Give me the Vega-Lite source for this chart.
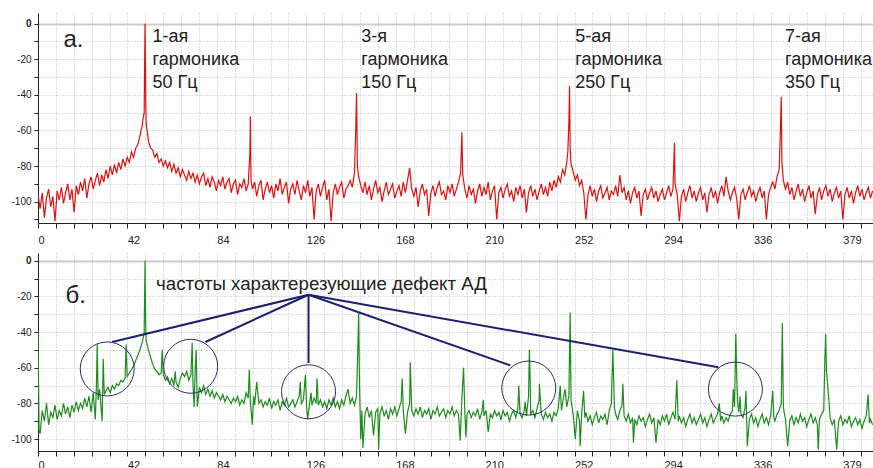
{
"$schema": "https://vega.github.io/schema/vega-lite/v6.json",
"padding": {"left": 10, "top": 13, "right": 0, "bottom": 0},
"background": "white",
"bounds": "flush",
"spacing": 30,
"config": {"view": {"stroke": null}, "font": "Liberation Sans"},
"datasets": {
"red": [{"f":0,"a":-96},{"f":1,"a":-104},{"f":2,"a":-95},{"f":3,"a":-109},{"f":4,"a":-98},{"f":5,"a":-93},{"f":6,"a":-103},{"f":7,"a":-97},{"f":8,"a":-111},{"f":9,"a":-94},{"f":10,"a":-99},{"f":11,"a":-92},{"f":12,"a":-101},{"f":13,"a":-95},{"f":14,"a":-90},{"f":15,"a":-99},{"f":16,"a":-93},{"f":17,"a":-106},{"f":18,"a":-91},{"f":19,"a":-96},{"f":20,"a":-89},{"f":21,"a":-94},{"f":22,"a":-87},{"f":23,"a":-98},{"f":24,"a":-90},{"f":25,"a":-86},{"f":26,"a":-93},{"f":27,"a":-88},{"f":28,"a":-84},{"f":29,"a":-91},{"f":30,"a":-85},{"f":31,"a":-89},{"f":32,"a":-82},{"f":33,"a":-87},{"f":34,"a":-80},{"f":35,"a":-85},{"f":36,"a":-79},{"f":37,"a":-84},{"f":38,"a":-78},{"f":39,"a":-82},{"f":40,"a":-76},{"f":41,"a":-80},{"f":42,"a":-75},{"f":43,"a":-78},{"f":44,"a":-72},{"f":45,"a":-75},{"f":46,"a":-70},{"f":47,"a":-68},{"f":48,"a":-63},{"f":48.5,"a":-60},{"f":49,"a":-58},{"f":49.5,"a":-53},{"f":50,"a":-50},{"f":50.4,"a":0},{"f":50.6,"a":-22},{"f":50.8,"a":-50},{"f":51,"a":-57},{"f":51.5,"a":-61},{"f":52,"a":-66},{"f":53,"a":-70},{"f":54,"a":-71},{"f":55,"a":-75},{"f":56,"a":-73},{"f":57,"a":-78},{"f":58,"a":-76},{"f":59,"a":-80},{"f":60,"a":-77},{"f":61,"a":-81},{"f":62,"a":-78},{"f":63,"a":-83},{"f":64,"a":-79},{"f":65,"a":-84},{"f":66,"a":-81},{"f":67,"a":-86},{"f":68,"a":-82},{"f":69,"a":-85},{"f":70,"a":-88},{"f":71,"a":-83},{"f":72,"a":-87},{"f":73,"a":-84},{"f":74,"a":-89},{"f":75,"a":-85},{"f":76,"a":-90},{"f":77,"a":-86},{"f":78,"a":-84},{"f":79,"a":-91},{"f":80,"a":-87},{"f":81,"a":-92},{"f":82,"a":-86},{"f":83,"a":-89},{"f":84,"a":-94},{"f":85,"a":-88},{"f":86,"a":-91},{"f":87,"a":-86},{"f":88,"a":-93},{"f":89,"a":-89},{"f":90,"a":-87},{"f":91,"a":-95},{"f":92,"a":-90},{"f":93,"a":-88},{"f":94,"a":-96},{"f":95,"a":-90},{"f":96,"a":-92},{"f":97,"a":-87},{"f":98,"a":-94},{"f":99,"a":-90},{"f":99.8,"a":-72},{"f":100,"a":-52},{"f":100.3,"a":-88},{"f":101,"a":-93},{"f":102,"a":-89},{"f":103,"a":-97},{"f":104,"a":-91},{"f":105,"a":-88},{"f":106,"a":-99},{"f":107,"a":-93},{"f":108,"a":-89},{"f":109,"a":-95},{"f":110,"a":-91},{"f":111,"a":-98},{"f":112,"a":-90},{"f":113,"a":-94},{"f":114,"a":-87},{"f":115,"a":-96},{"f":116,"a":-92},{"f":117,"a":-89},{"f":118,"a":-101},{"f":119,"a":-93},{"f":120,"a":-90},{"f":121,"a":-96},{"f":122,"a":-88},{"f":123,"a":-94},{"f":124,"a":-99},{"f":125,"a":-91},{"f":126,"a":-95},{"f":127,"a":-88},{"f":128,"a":-97},{"f":129,"a":-92},{"f":130,"a":-110},{"f":131,"a":-94},{"f":132,"a":-90},{"f":133,"a":-97},{"f":134,"a":-92},{"f":135,"a":-88},{"f":136,"a":-99},{"f":137,"a":-93},{"f":138,"a":-111},{"f":139,"a":-95},{"f":140,"a":-90},{"f":141,"a":-96},{"f":142,"a":-92},{"f":143,"a":-89},{"f":144,"a":-98},{"f":145,"a":-93},{"f":146,"a":-91},{"f":147,"a":-88},{"f":148,"a":-92},{"f":149,"a":-84},{"f":149.6,"a":-61},{"f":150,"a":-39},{"f":150.4,"a":-80},{"f":151,"a":-86},{"f":152,"a":-91},{"f":153,"a":-95},{"f":154,"a":-89},{"f":155,"a":-96},{"f":156,"a":-91},{"f":157,"a":-99},{"f":158,"a":-93},{"f":159,"a":-88},{"f":160,"a":-95},{"f":161,"a":-92},{"f":162,"a":-100},{"f":163,"a":-94},{"f":164,"a":-89},{"f":165,"a":-96},{"f":166,"a":-93},{"f":167,"a":-90},{"f":168,"a":-98},{"f":169,"a":-94},{"f":170,"a":-91},{"f":171,"a":-97},{"f":172,"a":-89},{"f":173,"a":-95},{"f":174,"a":-88},{"f":175,"a":-81},{"f":176,"a":-93},{"f":177,"a":-97},{"f":178,"a":-92},{"f":179,"a":-103},{"f":180,"a":-94},{"f":181,"a":-90},{"f":182,"a":-96},{"f":183,"a":-93},{"f":184,"a":-108},{"f":185,"a":-95},{"f":186,"a":-91},{"f":187,"a":-97},{"f":188,"a":-92},{"f":189,"a":-89},{"f":190,"a":-96},{"f":191,"a":-94},{"f":192,"a":-99},{"f":193,"a":-91},{"f":194,"a":-95},{"f":195,"a":-90},{"f":196,"a":-97},{"f":197,"a":-93},{"f":198,"a":-89},{"f":199,"a":-84},{"f":199.6,"a":-61},{"f":200,"a":-85},{"f":201,"a":-93},{"f":202,"a":-98},{"f":203,"a":-91},{"f":204,"a":-96},{"f":205,"a":-93},{"f":206,"a":-101},{"f":207,"a":-94},{"f":208,"a":-90},{"f":209,"a":-97},{"f":210,"a":-92},{"f":211,"a":-96},{"f":212,"a":-89},{"f":213,"a":-99},{"f":214,"a":-94},{"f":215,"a":-91},{"f":216,"a":-110},{"f":217,"a":-95},{"f":218,"a":-92},{"f":219,"a":-98},{"f":220,"a":-93},{"f":221,"a":-90},{"f":222,"a":-97},{"f":223,"a":-94},{"f":224,"a":-100},{"f":225,"a":-92},{"f":226,"a":-96},{"f":227,"a":-91},{"f":228,"a":-98},{"f":229,"a":-93},{"f":230,"a":-106},{"f":231,"a":-95},{"f":232,"a":-91},{"f":233,"a":-97},{"f":234,"a":-93},{"f":235,"a":-99},{"f":236,"a":-94},{"f":237,"a":-90},{"f":238,"a":-96},{"f":239,"a":-92},{"f":240,"a":-97},{"f":241,"a":-89},{"f":242,"a":-94},{"f":243,"a":-88},{"f":244,"a":-92},{"f":245,"a":-86},{"f":246,"a":-89},{"f":247,"a":-82},{"f":248,"a":-85},{"f":249,"a":-78},{"f":249.5,"a":-72},{"f":250,"a":-55},{"f":250.3,"a":-35},{"f":250.6,"a":-70},{"f":251,"a":-79},{"f":252,"a":-83},{"f":253,"a":-88},{"f":254,"a":-85},{"f":255,"a":-91},{"f":256,"a":-88},{"f":257,"a":-95},{"f":258,"a":-110},{"f":259,"a":-96},{"f":260,"a":-91},{"f":261,"a":-97},{"f":262,"a":-93},{"f":263,"a":-100},{"f":264,"a":-94},{"f":265,"a":-91},{"f":266,"a":-98},{"f":267,"a":-95},{"f":268,"a":-92},{"f":269,"a":-99},{"f":270,"a":-94},{"f":271,"a":-96},{"f":272,"a":-91},{"f":273,"a":-97},{"f":274,"a":-85},{"f":275,"a":-95},{"f":276,"a":-92},{"f":277,"a":-99},{"f":278,"a":-94},{"f":279,"a":-101},{"f":280,"a":-95},{"f":281,"a":-92},{"f":282,"a":-98},{"f":283,"a":-94},{"f":284,"a":-108},{"f":285,"a":-96},{"f":286,"a":-93},{"f":287,"a":-99},{"f":288,"a":-95},{"f":289,"a":-92},{"f":290,"a":-98},{"f":291,"a":-94},{"f":292,"a":-100},{"f":293,"a":-96},{"f":294,"a":-93},{"f":295,"a":-99},{"f":296,"a":-95},{"f":297,"a":-91},{"f":298,"a":-97},{"f":299,"a":-93},{"f":299.7,"a":-67},{"f":300,"a":-90},{"f":301,"a":-96},{"f":302,"a":-111},{"f":303,"a":-97},{"f":304,"a":-93},{"f":305,"a":-100},{"f":306,"a":-95},{"f":307,"a":-91},{"f":308,"a":-98},{"f":309,"a":-94},{"f":310,"a":-100},{"f":311,"a":-95},{"f":312,"a":-92},{"f":313,"a":-99},{"f":314,"a":-95},{"f":315,"a":-106},{"f":316,"a":-96},{"f":317,"a":-92},{"f":318,"a":-98},{"f":319,"a":-94},{"f":320,"a":-101},{"f":321,"a":-95},{"f":322,"a":-91},{"f":323,"a":-97},{"f":324,"a":-86},{"f":325,"a":-94},{"f":326,"a":-99},{"f":327,"a":-95},{"f":328,"a":-92},{"f":329,"a":-98},{"f":330,"a":-110},{"f":331,"a":-96},{"f":332,"a":-93},{"f":333,"a":-99},{"f":334,"a":-95},{"f":335,"a":-91},{"f":336,"a":-97},{"f":337,"a":-94},{"f":338,"a":-100},{"f":339,"a":-95},{"f":340,"a":-92},{"f":341,"a":-98},{"f":342,"a":-94},{"f":343,"a":-110},{"f":344,"a":-96},{"f":345,"a":-92},{"f":346,"a":-89},{"f":347,"a":-93},{"f":348,"a":-86},{"f":349,"a":-82},{"f":349.5,"a":-64},{"f":350,"a":-41},{"f":350.3,"a":-78},{"f":351,"a":-88},{"f":352,"a":-93},{"f":353,"a":-89},{"f":354,"a":-96},{"f":355,"a":-92},{"f":356,"a":-99},{"f":357,"a":-94},{"f":358,"a":-90},{"f":359,"a":-97},{"f":360,"a":-93},{"f":361,"a":-100},{"f":362,"a":-95},{"f":363,"a":-91},{"f":364,"a":-98},{"f":365,"a":-94},{"f":366,"a":-107},{"f":367,"a":-96},{"f":368,"a":-92},{"f":369,"a":-99},{"f":370,"a":-94},{"f":371,"a":-91},{"f":372,"a":-97},{"f":373,"a":-93},{"f":374,"a":-100},{"f":375,"a":-95},{"f":376,"a":-92},{"f":377,"a":-98},{"f":378,"a":-94},{"f":379,"a":-110},{"f":380,"a":-96},{"f":381,"a":-92},{"f":382,"a":-98},{"f":383,"a":-94},{"f":384,"a":-101},{"f":385,"a":-95},{"f":386,"a":-91},{"f":387,"a":-97},{"f":388,"a":-93},{"f":389,"a":-99},{"f":390,"a":-95},{"f":391,"a":-92},{"f":392,"a":-98},{"f":393,"a":-94}],
"green": [{"f":0,"a":-40},{"f":0.5,"a":-95},{"f":1,"a":-97},{"f":2,"a":-84},{"f":3,"a":-90},{"f":4,"a":-80},{"f":5,"a":-92},{"f":6,"a":-85},{"f":7,"a":-88},{"f":8,"a":-81},{"f":9,"a":-89},{"f":10,"a":-84},{"f":11,"a":-87},{"f":12,"a":-80},{"f":13,"a":-86},{"f":14,"a":-82},{"f":15,"a":-88},{"f":16,"a":-81},{"f":17,"a":-85},{"f":18,"a":-79},{"f":19,"a":-84},{"f":20,"a":-80},{"f":21,"a":-83},{"f":22,"a":-77},{"f":23,"a":-82},{"f":24,"a":-76},{"f":25,"a":-85},{"f":26,"a":-74},{"f":27,"a":-89},{"f":27.5,"a":-70},{"f":27.9,"a":-47},{"f":28.3,"a":-78},{"f":29,"a":-72},{"f":30.2,"a":-90},{"f":30.7,"a":-55},{"f":31.2,"a":-75},{"f":32,"a":-73},{"f":33,"a":-71},{"f":34,"a":-74},{"f":35,"a":-70},{"f":36,"a":-72},{"f":37,"a":-69},{"f":38,"a":-70},{"f":39,"a":-67},{"f":40,"a":-68},{"f":41,"a":-66},{"f":41.5,"a":-47},{"f":42,"a":-65},{"f":43,"a":-63},{"f":44,"a":-61},{"f":45,"a":-59},{"f":46,"a":-56},{"f":47,"a":-53},{"f":48,"a":-50},{"f":49,"a":-46},{"f":49.6,"a":-43},{"f":50,"a":-40},{"f":50.4,"a":0},{"f":50.6,"a":-25},{"f":50.8,"a":-41},{"f":51,"a":-45},{"f":52,"a":-50},{"f":53,"a":-54},{"f":54,"a":-58},{"f":55,"a":-61},{"f":56,"a":-62},{"f":57,"a":-64},{"f":58,"a":-63},{"f":58.5,"a":-50},{"f":59,"a":-64},{"f":60,"a":-67},{"f":61,"a":-65},{"f":62,"a":-69},{"f":63,"a":-66},{"f":64,"a":-70},{"f":64.6,"a":-62},{"f":65,"a":-68},{"f":66,"a":-71},{"f":67,"a":-66},{"f":68,"a":-63},{"f":69,"a":-65},{"f":70,"a":-62},{"f":71,"a":-67},{"f":72,"a":-64},{"f":72.6,"a":-46},{"f":73,"a":-70},{"f":73.5,"a":-82},{"f":74,"a":-62},{"f":74.5,"a":-50},{"f":75,"a":-82},{"f":76,"a":-71},{"f":77,"a":-74},{"f":78,"a":-70},{"f":79,"a":-75},{"f":80,"a":-72},{"f":81,"a":-76},{"f":82,"a":-73},{"f":83,"a":-77},{"f":84,"a":-74},{"f":85,"a":-76},{"f":86,"a":-78},{"f":87,"a":-75},{"f":88,"a":-79},{"f":89,"a":-76},{"f":90,"a":-78},{"f":91,"a":-80},{"f":92,"a":-77},{"f":93,"a":-79},{"f":94,"a":-76},{"f":95,"a":-81},{"f":96,"a":-78},{"f":97,"a":-80},{"f":98,"a":-74},{"f":99,"a":-77},{"f":99.5,"a":-61},{"f":100,"a":-79},{"f":100.9,"a":-92},{"f":101.5,"a":-76},{"f":102,"a":-81},{"f":103,"a":-68},{"f":104,"a":-80},{"f":105,"a":-78},{"f":106,"a":-82},{"f":107,"a":-79},{"f":108,"a":-81},{"f":109,"a":-77},{"f":110,"a":-83},{"f":111,"a":-79},{"f":112,"a":-81},{"f":113,"a":-78},{"f":114,"a":-84},{"f":115,"a":-79},{"f":116,"a":-81},{"f":117,"a":-77},{"f":118,"a":-82},{"f":119,"a":-80},{"f":120,"a":-78},{"f":121,"a":-82},{"f":122,"a":-79},{"f":123,"a":-76},{"f":123.5,"a":-68},{"f":124,"a":-80},{"f":125,"a":-78},{"f":125.9,"a":-64},{"f":126.5,"a":-82},{"f":127,"a":-89},{"f":128,"a":-79},{"f":128.6,"a":-74},{"f":129,"a":-81},{"f":130,"a":-77},{"f":131,"a":-80},{"f":131.4,"a":-66},{"f":132,"a":-81},{"f":133,"a":-78},{"f":134,"a":-82},{"f":135,"a":-79},{"f":136,"a":-83},{"f":137,"a":-78},{"f":138,"a":-81},{"f":139,"a":-77},{"f":140,"a":-82},{"f":141,"a":-79},{"f":142,"a":-83},{"f":143,"a":-78},{"f":144,"a":-81},{"f":145,"a":-76},{"f":146,"a":-72},{"f":147,"a":-80},{"f":148,"a":-77},{"f":149,"a":-81},{"f":150,"a":-76},{"f":150.6,"a":-50},{"f":151,"a":-29},{"f":151.4,"a":-70},{"f":152,"a":-100},{"f":152.5,"a":-84},{"f":153,"a":-105},{"f":154,"a":-86},{"f":155,"a":-82},{"f":156,"a":-88},{"f":157,"a":-84},{"f":158,"a":-98},{"f":159,"a":-85},{"f":160,"a":-83},{"f":160.4,"a":-106},{"f":161,"a":-86},{"f":162,"a":-82},{"f":163,"a":-87},{"f":164,"a":-84},{"f":165,"a":-89},{"f":166,"a":-83},{"f":167,"a":-86},{"f":168,"a":-82},{"f":169,"a":-87},{"f":170,"a":-83},{"f":171,"a":-79},{"f":171.5,"a":-66},{"f":172,"a":-84},{"f":173,"a":-97},{"f":174,"a":-85},{"f":175,"a":-80},{"f":175.3,"a":-57},{"f":176,"a":-84},{"f":177,"a":-87},{"f":178,"a":-83},{"f":179,"a":-86},{"f":180,"a":-82},{"f":181,"a":-88},{"f":182,"a":-84},{"f":183,"a":-86},{"f":184,"a":-83},{"f":185,"a":-89},{"f":186,"a":-84},{"f":187,"a":-86},{"f":188,"a":-82},{"f":189,"a":-87},{"f":190,"a":-85},{"f":191,"a":-83},{"f":192,"a":-88},{"f":193,"a":-84},{"f":194,"a":-86},{"f":195,"a":-82},{"f":196,"a":-87},{"f":197,"a":-84},{"f":198,"a":-86},{"f":198.8,"a":-101},{"f":199.5,"a":-80},{"f":200.4,"a":-60},{"f":201,"a":-85},{"f":201.5,"a":-99},{"f":202,"a":-86},{"f":203,"a":-84},{"f":204,"a":-88},{"f":205,"a":-85},{"f":206,"a":-87},{"f":207,"a":-83},{"f":208,"a":-89},{"f":209,"a":-85},{"f":209.7,"a":-78},{"f":210,"a":-87},{"f":211,"a":-84},{"f":212,"a":-96},{"f":213,"a":-86},{"f":214,"a":-88},{"f":215,"a":-84},{"f":216,"a":-87},{"f":217,"a":-85},{"f":218,"a":-89},{"f":219,"a":-84},{"f":220,"a":-87},{"f":221,"a":-85},{"f":222,"a":-90},{"f":223,"a":-86},{"f":224,"a":-84},{"f":225,"a":-88},{"f":226,"a":-83},{"f":226.4,"a":-70},{"f":227,"a":-86},{"f":228,"a":-88},{"f":229,"a":-84},{"f":229.4,"a":-79},{"f":230,"a":-87},{"f":231,"a":-76},{"f":231.4,"a":-50},{"f":231.7,"a":-63},{"f":232,"a":-86},{"f":233,"a":-84},{"f":234,"a":-88},{"f":235,"a":-83},{"f":236,"a":-78},{"f":236.1,"a":-69},{"f":237,"a":-86},{"f":238,"a":-89},{"f":239,"a":-85},{"f":240,"a":-88},{"f":241,"a":-86},{"f":242,"a":-90},{"f":243,"a":-85},{"f":244,"a":-87},{"f":245,"a":-83},{"f":245.9,"a":-70},{"f":246.5,"a":-84},{"f":247,"a":-80},{"f":248.2,"a":-72},{"f":249,"a":-82},{"f":250,"a":-76},{"f":250.3,"a":-50},{"f":250.6,"a":-29},{"f":251,"a":-78},{"f":252,"a":-86},{"f":253,"a":-100},{"f":254,"a":-84},{"f":255,"a":-90},{"f":255.3,"a":-104},{"f":256,"a":-86},{"f":256.9,"a":-73},{"f":257.5,"a":-88},{"f":258,"a":-85},{"f":259,"a":-90},{"f":260,"a":-87},{"f":261,"a":-92},{"f":262,"a":-88},{"f":263,"a":-85},{"f":264,"a":-91},{"f":265,"a":-87},{"f":266,"a":-89},{"f":267,"a":-86},{"f":268,"a":-92},{"f":269,"a":-84},{"f":270,"a":-80},{"f":270.7,"a":-50},{"f":271,"a":-63},{"f":271.4,"a":-82},{"f":272,"a":-86},{"f":273,"a":-89},{"f":274,"a":-84},{"f":275,"a":-81},{"f":275.4,"a":-69},{"f":276,"a":-87},{"f":277,"a":-90},{"f":278,"a":-86},{"f":279,"a":-91},{"f":280,"a":-88},{"f":280.4,"a":-102},{"f":281,"a":-89},{"f":282,"a":-92},{"f":283,"a":-87},{"f":284,"a":-90},{"f":285,"a":-88},{"f":286,"a":-93},{"f":287,"a":-89},{"f":288,"a":-86},{"f":289,"a":-91},{"f":290,"a":-88},{"f":291,"a":-102},{"f":292,"a":-89},{"f":293,"a":-92},{"f":294,"a":-87},{"f":295,"a":-90},{"f":296,"a":-86},{"f":297,"a":-92},{"f":298,"a":-88},{"f":299,"a":-85},{"f":300,"a":-89},{"f":300.8,"a":-67},{"f":301.5,"a":-90},{"f":302,"a":-87},{"f":303,"a":-91},{"f":304,"a":-88},{"f":305,"a":-93},{"f":306,"a":-89},{"f":307,"a":-86},{"f":308,"a":-91},{"f":309,"a":-88},{"f":310,"a":-92},{"f":311,"a":-89},{"f":312,"a":-86},{"f":313,"a":-91},{"f":314,"a":-88},{"f":315,"a":-93},{"f":316,"a":-89},{"f":317,"a":-86},{"f":318,"a":-91},{"f":319,"a":-88},{"f":320,"a":-86},{"f":320.8,"a":-80},{"f":321.5,"a":-90},{"f":322,"a":-87},{"f":323,"a":-91},{"f":324,"a":-88},{"f":325,"a":-90},{"f":326,"a":-86},{"f":327,"a":-84},{"f":327.4,"a":-72},{"f":328,"a":-82},{"f":328.6,"a":-41},{"f":329,"a":-64},{"f":329.5,"a":-80},{"f":330,"a":-85},{"f":330.6,"a":-76},{"f":331,"a":-86},{"f":332,"a":-88},{"f":333,"a":-82},{"f":333.4,"a":-73},{"f":334,"a":-104},{"f":335,"a":-89},{"f":336,"a":-86},{"f":337,"a":-91},{"f":338,"a":-88},{"f":339,"a":-93},{"f":340,"a":-89},{"f":341,"a":-86},{"f":342,"a":-91},{"f":343,"a":-88},{"f":344,"a":-92},{"f":345,"a":-87},{"f":346,"a":-73},{"f":346.5,"a":-88},{"f":347,"a":-90},{"f":348,"a":-86},{"f":349,"a":-84},{"f":350,"a":-80},{"f":350.5,"a":-35},{"f":351,"a":-82},{"f":351.5,"a":-86},{"f":352,"a":-89},{"f":353,"a":-104},{"f":354,"a":-90},{"f":355,"a":-87},{"f":356,"a":-92},{"f":357,"a":-88},{"f":358,"a":-91},{"f":359,"a":-86},{"f":360,"a":-90},{"f":361,"a":-88},{"f":362,"a":-93},{"f":363,"a":-89},{"f":364,"a":-86},{"f":365,"a":-91},{"f":366,"a":-88},{"f":367,"a":-92},{"f":367.4,"a":-106},{"f":368,"a":-89},{"f":369,"a":-86},{"f":370,"a":-84},{"f":370.5,"a":-57},{"f":370.9,"a":-41},{"f":371.3,"a":-62},{"f":372.1,"a":-73},{"f":373,"a":-88},{"f":374,"a":-92},{"f":375,"a":-89},{"f":376.1,"a":-106},{"f":377,"a":-90},{"f":378,"a":-87},{"f":379,"a":-92},{"f":380,"a":-89},{"f":381,"a":-91},{"f":382,"a":-87},{"f":383,"a":-93},{"f":384,"a":-90},{"f":385,"a":-88},{"f":386,"a":-92},{"f":387,"a":-89},{"f":388,"a":-94},{"f":389,"a":-90},{"f":390,"a":-87},{"f":390.9,"a":-75},{"f":391.5,"a":-91},{"f":392,"a":-89},{"f":393,"a":-92}],
"tagTop": [{"f":12,"a":-13,"t":"а."}],
"harm": [{"f":53.9,"a":-2.3,"t":"1-ая\nгармоника\n50 Гц"},{"f":152.2,"a":-2.3,"t":"3-я\nгармоника\n150 Гц"},{"f":253,"a":-2.3,"t":"5-ая\nгармоника\n250 Гц"},{"f":351.8,"a":-2.3,"t":"7-ая\nгармоника\n350 Гц"}],
"tagBot": [{"f":12.9,"a":-23.6,"t":"б."}],
"note": [{"f":55.6,"a":-16.3,"t":"частоты характерезующие дефект АД"}],
"links": [{"f":127.4,"a":-19.1,"f2":34.9,"a2":-45.6},{"f":127.4,"a":-19.1,"f2":78.8,"a2":-45.6},{"f":127.4,"a":-19.1,"f2":127.4,"a2":-57.4},{"f":127.4,"a":-19.1,"f2":222.4,"a2":-58.7},{"f":127.4,"a":-19.1,"f2":320.4,"a2":-59.8}],
"circles": [{"f":32.6,"a":-60.7},{"f":71.9,"a":-59.2},{"f":127.4,"a":-73.5},{"f":231.1,"a":-71.4},{"f":328.4,"a":-72}]
},
"vconcat": [
{
 "width": 835, "height": 210,
 "encoding": {
  "x": {"field": "f", "type": "quantitative", "scale": {"domain": [0, 393.2], "nice": false, "zero": false},
   "axis": {"title": null, "values": [0,8.422,16.844,25.266,33.688,42.11,50.532,58.954,67.376,75.798,84.22,92.642,101.064,109.486,117.908,126.33,134.752,143.174,151.596,160.018,168.44,176.862,185.284,193.706,202.128,210.55,218.972,227.394,235.816,244.238,252.66,261.082,269.504,277.926,286.348,294.77,303.192,311.614,320.036,328.458,336.88,345.302,353.724,362.146,370.568,378.99,387.412],
    "labelExpr": "abs(datum.value/42.11 - round(datum.value/42.11)) < 0.01 ? '' + floor(datum.value + 0.02) : ''",
    "labelAlign": "left", "labelDx": 1, "labelBaseline": "top", "labelPadding": 6, "labelOverlap": false, "labelFlush": false,
    "tickSize": 5, "labelFontSize": 11, "labelColor": "#222", "tickColor": "#222", "domainColor": "#222",
    "grid": true, "gridDash": [1, 2], "gridColor": "#bdbdbd"}},
  "y": {"field": "a", "type": "quantitative", "scale": {"domain": [-112, 6], "nice": false, "zero": false},
   "axis": {"title": null, "values": [-110,-100,-90,-80,-70,-60,-50,-40,-30,-20,-10,0],
    "labelExpr": "datum.value % 20 === 0 ? '' + datum.value : ''",
    "tickSize": 4, "labelPadding": 3, "labelFontSize": 10, "labelColor": "#222", "tickColor": "#222", "domainColor": "#222",
    "labelFontWeight": {"condition": {"test": "datum.value === 0", "value": "bold"}, "value": "normal"},
    "grid": true,
    "gridDash": {"condition": {"test": "datum.value === 0", "value": []}, "value": [1, 2]},
    "gridWidth": {"condition": {"test": "datum.value === 0", "value": 2}, "value": 1},
    "gridColor": {"condition": {"test": "datum.value === 0", "value": "#cccccc"}, "value": "#bdbdbd"}}}
 },
 "layer": [
  {"data": {"name": "red"}, "mark": {"type": "line", "color": "#e01010", "strokeWidth": 1.2, "clip": true}},
  {"data": {"name": "tagTop"}, "mark": {"type": "text", "align": "left", "baseline": "alphabetic", "fontSize": 24, "font": "Liberation Sans", "color": "#222"}, "encoding": {"text": {"field": "t"}}},
  {"data": {"name": "harm"}, "mark": {"type": "text", "align": "left", "baseline": "top", "fontSize": 18, "lineBreak": "\n", "lineHeight": 23, "font": "Liberation Sans", "color": "#222"}, "encoding": {"text": {"field": "t"}}}
 ]
},
{
 "width": 835, "height": 198,
 "encoding": {
  "x": {"field": "f", "type": "quantitative", "scale": {"domain": [0, 393.2], "nice": false, "zero": false},
   "axis": {"title": null, "values": [0,8.422,16.844,25.266,33.688,42.11,50.532,58.954,67.376,75.798,84.22,92.642,101.064,109.486,117.908,126.33,134.752,143.174,151.596,160.018,168.44,176.862,185.284,193.706,202.128,210.55,218.972,227.394,235.816,244.238,252.66,261.082,269.504,277.926,286.348,294.77,303.192,311.614,320.036,328.458,336.88,345.302,353.724,362.146,370.568,378.99,387.412],
    "labelExpr": "abs(datum.value/42.11 - round(datum.value/42.11)) < 0.01 ? '' + floor(datum.value + 0.02) : ''",
    "labelAlign": "left", "labelDx": 1, "labelBaseline": "top", "labelPadding": 3, "labelOverlap": false, "labelFlush": false,
    "tickSize": 5, "labelFontSize": 11, "labelColor": "#222", "tickColor": "#222", "domainColor": "#222",
    "grid": true, "gridDash": [1, 2], "gridColor": "#bdbdbd"}},
  "y": {"field": "a", "type": "quantitative", "scale": {"domain": [-106.7, 4.3], "nice": false, "zero": false},
   "axis": {"title": null, "values": [-100,-90,-80,-70,-60,-50,-40,-30,-20,-10,0],
    "labelExpr": "datum.value % 20 === 0 ? '' + datum.value : ''",
    "tickSize": 4, "labelPadding": 3, "labelFontSize": 10, "labelColor": "#222", "tickColor": "#222", "domainColor": "#222",
    "labelFontWeight": {"condition": {"test": "datum.value === 0", "value": "bold"}, "value": "normal"},
    "grid": true,
    "gridDash": {"condition": {"test": "datum.value === 0", "value": []}, "value": [1, 2]},
    "gridWidth": {"condition": {"test": "datum.value === 0", "value": 2}, "value": 1},
    "gridColor": {"condition": {"test": "datum.value === 0", "value": "#cccccc"}, "value": "#bdbdbd"}}}
 },
 "layer": [
  {"data": {"name": "green"}, "mark": {"type": "line", "color": "#1e8c1e", "strokeWidth": 1.2, "clip": true}},
  {"data": {"name": "links"}, "mark": {"type": "rule", "color": "#1f1f6e", "strokeWidth": 2}, "encoding": {"x2": {"field": "f2"}, "y2": {"field": "a2"}}},
  {"data": {"name": "circles"}, "mark": {"type": "point", "shape": "circle", "size": 2916, "filled": false, "stroke": "#2b2b70", "strokeWidth": 1, "opacity": 1}},
  {"data": {"name": "tagBot"}, "mark": {"type": "text", "align": "left", "baseline": "alphabetic", "fontSize": 24, "font": "Liberation Sans", "color": "#222"}, "encoding": {"text": {"field": "t"}}},
  {"data": {"name": "note"}, "mark": {"type": "text", "align": "left", "baseline": "alphabetic", "fontSize": 18.7, "font": "Liberation Sans", "color": "#222"}, "encoding": {"text": {"field": "t"}}}
 ]
}
]
}
